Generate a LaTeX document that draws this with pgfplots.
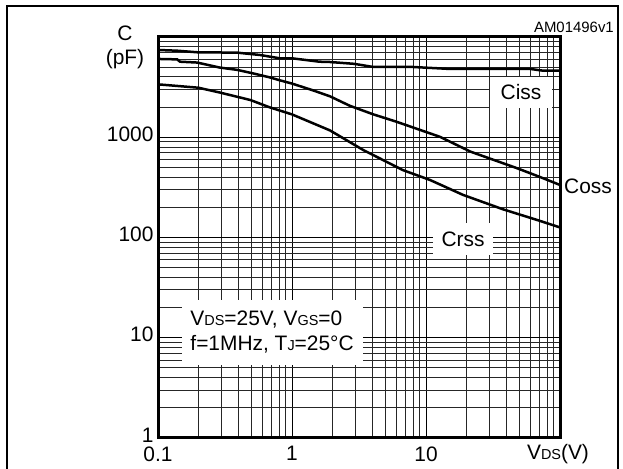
\documentclass[border=0pt]{standalone}
\usepackage{pgfplots}
\pgfplotsset{compat=1.18}
\usepackage{fontspec}
\setmainfont{Liberation Sans}
\newcommand{\sm}[1]{{\fontsize{14.5}{14.5}\selectfont #1}}
\begin{document}
\begin{tikzpicture}[x=1bp,y=1bp]
\path[use as bounding box] (0,0) rectangle (623,469);
\draw[line width=2bp] (7,0) -- (7,463) -- (618,463) -- (618,0);
\begin{axis}[
  at={(158bp,31bp)}, anchor=south west,
  scale only axis, width=402bp, height=401bp,
  xmode=log, ymode=log,
  xmin=0.1, xmax=100, ymin=1, ymax=10000,
  xtick={0.1,1,10,100}, xticklabels={0.1,1,10,},
  ytick={1,10,100,1000,10000}, yticklabels={1,10,100,1000,},
  minor xtick={0.2,0.3,0.4,0.5,0.6,0.7,0.8,0.9,2,3,4,5,6,7,8,9,20,30,40,50,60,70,80,90},
  minor ytick={2,3,4,5,6,7,8,9,20,30,40,50,60,70,80,90,200,300,400,500,600,700,800,900,2000,3000,4000,5000,6000,7000,8000,9000},
  grid=both,
  major grid style={line width=0.9bp, black},
  minor grid style={line width=0.9bp, black!85},
  major tick length=0, minor tick length=0,
  axis line style={line width=3bp},
  /pgf/number format/assume math mode=true,
  tick label style={font=\fontsize{21}{25}\selectfont},
  xticklabel style={yshift=-5bp},
  yticklabel style={xshift=-1bp, yshift=3bp},
  clip=false,
]
\addplot[line width=2.5bp, black] coordinates {
(0.1,7420) (0.139,7300) (0.196,7040) (0.39,6980) (0.58,6610) (0.81,6130) (1.0,6130) (1.6,5670) (1.92,5630) (2.9,5400) (4.05,5020) (8,5020) (15.1,4800) (60,4800) (75,4610) (100,4610)};
\addplot[line width=2.5bp, black] coordinates {
(0.1,6040) (0.139,5980) (0.146,5670) (0.196,5560) (0.29,4950) (0.39,4700) (0.51,4340) (0.68,3960) (0.81,3700) (1.0,3430) (1.43,2940) (1.92,2560) (2.7,2060) (4.05,1690) (6.0,1430) (12.7,1010) (21.5,718) (48,490) (70,404) (100,334)};
\addplot[line width=2.5bp, black] coordinates {
(0.1,3370) (0.2,3120) (0.29,2790) (0.49,2350) (0.68,1990) (1.0,1690) (1.92,1170) (3.4,746) (6.7,471) (10.7,375) (18.9,266) (37.6,191) (67,150) (100,126)};
\node[fill=white, minimum width=62bp, minimum height=31bp, inner sep=0pt, font=\fontsize{21}{25}\selectfont] at (axis cs:51.2,2826) {Ciss};
\node[fill=white, minimum width=60bp, minimum height=32bp, inner sep=0pt, font=\fontsize{21}{25}\selectfont] at (axis cs:18.9,96.6) {Crss};
\node[fill=white, minimum width=181bp, minimum height=65bp, inner sep=0pt, align=left, font=\fontsize{21}{25}\selectfont] at (axis cs:0.71,11.4) {V\sm{DS}=25V, V\sm{GS}=0\\f=1MHz, T\sm{J}=25°C};
\end{axis}
\node[font=\fontsize{21}{25}\selectfont] at (588,283) {Coss};
\node[font=\fontsize{21}{25}\selectfont] at (125,436) {C};
\node[font=\fontsize{21}{25}\selectfont] at (125,410) {(pF)};
\node[font=\fontsize{21}{25}\selectfont] at (558,15) {V\sm{DS}(V)};
\node[font=\fontsize{15}{17}\selectfont, anchor=east, inner sep=1bp] at (615,442) {AM01496v1};
\end{tikzpicture}
\end{document}
